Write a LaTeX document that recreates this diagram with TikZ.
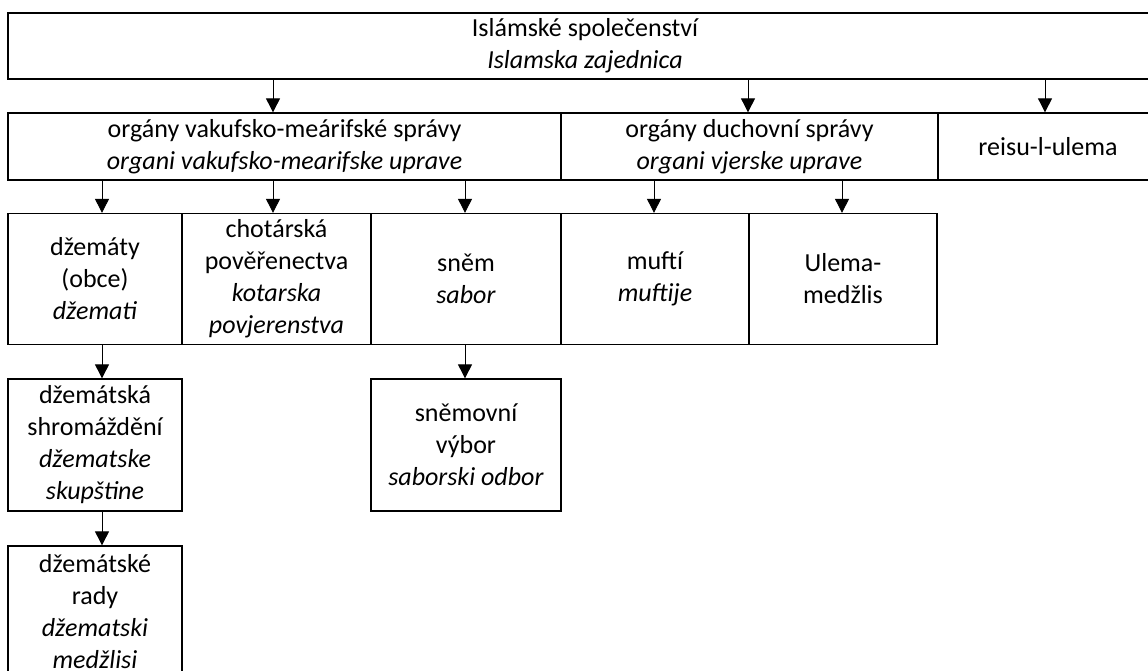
\documentclass[tikz,border=0pt]{standalone}
\usepackage{fontspec}
\setmainfont{Carlito}
\usetikzlibrary{arrows.meta}
\tikzset{
  orgbox/.style={draw=black, line width=1.3pt, inner sep=0pt, align=center,
    font=\fontsize{26}{32}\selectfont},
  arr/.style={line width=0.9pt, -{Triangle[length=14pt,width=14pt]}}
}
\begin{document}
\begin{tikzpicture}[x=1pt,y=-1pt]
\useasboundingbox (0,0) rectangle (1148,670);
\fill[white] (0,0) rectangle (1148,670);
\clip (0,0) rectangle (1148,670);
% row 1
\node[orgbox, minimum width=1154pt, minimum height=66pt] (top) at (585,46)
  {Islámské společenství\\\textit{Islamska zajednica}};
% row 2
\node[orgbox, minimum width=553pt, minimum height=67pt] (vak) at (284.5,146.5)
  {orgány vakufsko-meárifské správy\\\textit{organi vakufsko-mearifske uprave}};
\node[orgbox, minimum width=377pt, minimum height=67pt] (duch) at (749.5,146.5)
  {orgány duchovní správy\\\textit{organi vjerske uprave}};
\node[orgbox, minimum width=220pt, minimum height=67pt] (reis) at (1048,146.5)
  {reisu-l-ulema};
% row 3
\node[orgbox, minimum width=174pt, minimum height=131pt] (dzem) at (95,279)
  {džemáty\\(obce)\\\textit{džemati}};
\node[orgbox, minimum width=189pt, minimum height=131pt] (chot) at (276.5,279)
  {chotárská\\pověřenectva\\\textit{kotarska}\\\textit{povjerenstva}};
\node[orgbox, minimum width=190pt, minimum height=131pt] (snem) at (466,279)
  {sněm\\\textit{sabor}};
\node[orgbox, minimum width=188pt, minimum height=131pt] (mufti) at (655,279)
  {muftí\\\textit{muftije}};
\node[orgbox, minimum width=188pt, minimum height=131pt] (ulema) at (843,279)
  {Ulema-\\medžlis};
% row 4
\node[orgbox, minimum width=174pt, minimum height=132pt] (shrom) at (95,445)
  {džemátská\\shromáždění\\\textit{džematske}\\\textit{skupštine}};
\node[orgbox, minimum width=190pt, minimum height=132pt] (vybor) at (466,445)
  {sněmovní\\výbor\\\textit{saborski odbor}};
% row 5
\node[orgbox, minimum width=174pt, minimum height=132pt] (rady) at (95,612)
  {džemátské\\rady\\\textit{džematski}\\\textit{medžlisi}};
% arrow x positions
\coordinate (xa) at (273,0);
\coordinate (xb) at (748,0);
\coordinate (xc) at (1045,0);
\coordinate (xd) at (102,0);
\coordinate (xe) at (273,0);
\coordinate (xf) at (465,0);
\coordinate (xg) at (654,0);
\coordinate (xh) at (842,0);
% arrows
\draw[arr] (top.south -| xa) -- (vak.north -| xa);
\draw[arr] (top.south -| xb) -- (duch.north -| xb);
\draw[arr] (top.south -| xc) -- (reis.north -| xc);
\draw[arr] (vak.south -| xd) -- (dzem.north -| xd);
\draw[arr] (vak.south -| xe) -- (chot.north -| xe);
\draw[arr] (vak.south -| xf) -- (snem.north -| xf);
\draw[arr] (duch.south -| xg) -- (mufti.north -| xg);
\draw[arr] (duch.south -| xh) -- (ulema.north -| xh);
\draw[arr] (dzem.south -| xd) -- (shrom.north -| xd);
\draw[arr] (shrom.south -| xd) -- (rady.north -| xd);
\draw[arr] (snem.south -| xf) -- (vybor.north -| xf);
\end{tikzpicture}
\end{document}
